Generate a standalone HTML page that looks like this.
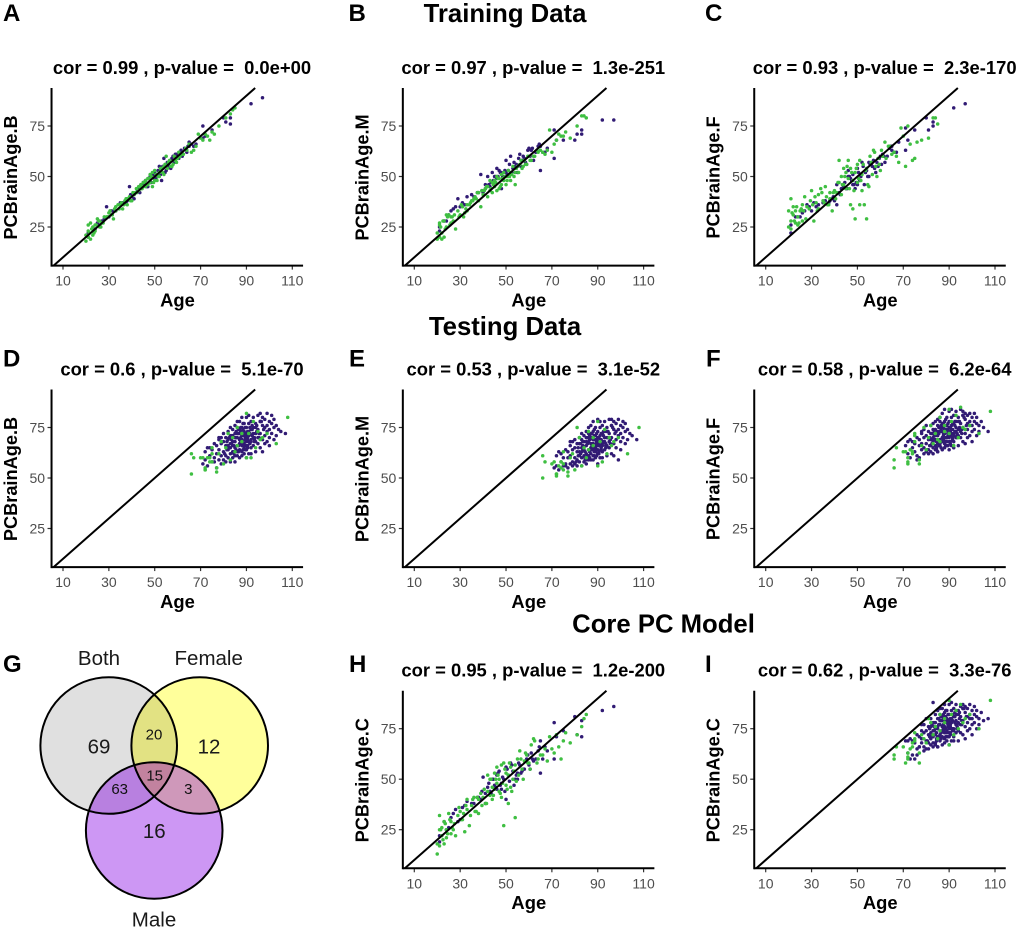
<!DOCTYPE html>
<html lang="en">
<head>
<meta charset="utf-8">
<title>PCBrainAge figure</title>
<style>
html,body{margin:0;padding:0;background:#fff;}
svg{display:block;font-family:"Liberation Sans",Arial,sans-serif;}
text{white-space:pre;}
.hd{font-weight:bold;font-size:25.7px;fill:#000;text-anchor:middle;}
.lt{font-weight:bold;font-size:24px;fill:#000;}
.vl{font-size:20.5px;fill:#1a1a1a;text-anchor:middle;}
.vn{font-size:15px;fill:#111;text-anchor:middle;}
</style>
</head>
<body>
<svg id="figure" width="1020" height="931" viewBox="0 0 1020 931" xmlns="http://www.w3.org/2000/svg">
<rect width="1020" height="931" fill="#fff"/>
<text class="hd" x="505" y="22">Training Data</text>
<text class="hd" x="505" y="335">Testing Data</text>
<text class="hd" x="663.5" y="632.5">Core PC Model</text>
<g id="panels"></g>
<g>
<defs>
<clipPath id="clipBoth"><circle cx="108.7" cy="745.5" r="68.3"/></clipPath>
<clipPath id="clipFemale"><circle cx="199.7" cy="745.5" r="68.3"/></clipPath>
<clipPath id="clipMale"><circle cx="154.2" cy="830.5" r="68.3"/></clipPath>
</defs>
<circle cx="108.7" cy="745.5" r="68.3" fill="#e0e0e0"/>
<circle cx="199.7" cy="745.5" r="68.3" fill="#ffff9b"/>
<circle cx="154.2" cy="830.5" r="68.3" fill="#cd97f4"/>
<g clip-path="url(#clipBoth)"><circle cx="199.7" cy="745.5" r="68.3" fill="#e2e283"/></g>
<g clip-path="url(#clipBoth)"><circle cx="154.2" cy="830.5" r="68.3" fill="#b880e0"/></g>
<g clip-path="url(#clipFemale)"><circle cx="154.2" cy="830.5" r="68.3" fill="#cf98ba"/></g>
<g clip-path="url(#clipBoth)"><g clip-path="url(#clipFemale)"><circle cx="154.2" cy="830.5" r="68.3" fill="#c2829f"/></g></g>
<circle cx="108.7" cy="745.5" r="68.3" fill="none" stroke="#000" stroke-width="2"/>
<circle cx="199.7" cy="745.5" r="68.3" fill="none" stroke="#000" stroke-width="2"/>
<circle cx="154.2" cy="830.5" r="68.3" fill="none" stroke="#000" stroke-width="2"/>
<text class="vl" x="99" y="665">Both</text>
<text class="vl" x="208.7" y="665">Female</text>
<text class="vl" x="154" y="926.5">Male</text>
<text class="vl" x="99" y="753.5">69</text>
<text class="vl" x="209" y="753.5">12</text>
<text class="vl" x="154.3" y="838">16</text>
<text class="vn" x="154" y="739.5">20</text>
<text class="vn" x="154.7" y="780.5">15</text>
<text class="vn" x="119.7" y="794">63</text>
<text class="vn" x="188.3" y="794">3</text>
</g>
</svg>
<script>
const xTicks = [10, 30, 50, 70, 90, 110];
const yTicks = [25, 50, 75];

const trainAgePurple = [
21,21,23,26,27,28,29,31,33,35,
38,39,40,41,41,42,43,44,45,46,
46,47,48,48,49,50,50,51,52,53,
54,55,55,56,57,58,59,60,61,62,
63,64,65,65,67,71,71,72,75,80,
81,83,83,92,97,
42.5,43.5,44.5,45.5,46.5,47.5,48.5,49.5,50.5,51.5,
52.5,53.5,54.5,55.5,56.5,57.5,58.5,59.5,60.5,61.5,
39.5,37.5,36,32,30,25,24,66,68,64.5];
const trainAgeGreen = [
20,20,21,21,21,22,22,23,23,24,
24,25,26,26,27,28,29,30,31,32,
33,33,34,35,36,37,38,38,39,40,
41,42,42,43,43,44,44,45,45,46,
46,47,47,48,48,49,49,50,50,51,
51,52,52,53,54,54,55,56,57,58,
59,60,61,62,64,66,67,68,69,71,
72,73,74,75,76,78,81,83,84,85,
21.5,22.5,23.5,24.5,25.5,26.5,27.5,29.5,30.5,31.5,
32.5,34.5,35.5,36.5,37.5,39.5,40.5,41.5,43.5,44.5,
45.5,46.5,47.5,48.5,49.5,50.5,51.5,52.5,53.5,54.5,
55.5,56.5,57.5,58.5,59.5,60.5,62.5,63.5,65,70];
const testAgePurple = [
71,72,72,73,73,74,74,75,75,76,
76,76,77,77,77,78,78,78,79,79,
79,79,80,80,80,80,81,81,81,81,
82,82,82,82,82,83,83,83,83,83,
84,84,84,84,84,84,85,85,85,85,
85,85,86,86,86,86,86,86,87,87,
87,87,87,87,87,88,88,88,88,88,
88,88,89,89,89,89,89,89,90,90,
90,90,90,90,90,91,91,91,91,91,
91,92,92,92,92,92,93,93,93,93,
93,94,94,94,94,95,95,95,95,96,
96,96,96,97,97,97,97,98,98,98,
98,99,99,99,99,100,100,100,100,101,
101,101,102,102,102,103,103,104,105,107,
78,83,86,88,90,92,94,96,89,85,
80.5,81.5,82.5,83.5,84.5,85.5,86.5,87.5,88.5,89.5,
90.5,91.5,92.5,93.5,94.5,95.5,96.5,97.5,81.5,82.5,
83.5,84.5,85.5,86.5,87.5,88.5,89.5,90.5,91.5,92.5,
93.5,94.5,95.5,83.5,84.5,85.5,86.5,87.5,88.5,89.5,
90.5,91.5,92.5,93.5,85.5,86.5,87.5,88.5,89.5,90.5,
91.5,87.5,88.5,89.5,90.5,86.5,87.5,88.5,89.5,90.5];
const testAgeGreen = [
66,66,67,70,71,72,72,72,73,74,
74,75,75,75,77,77,78,79,80,81,
82,83,84,85,86,86,88,88,90,90,
91,92,93,94,95,96,97,99,103,108];

const trainBothPurple = [
20,22,24,26,28,29,35,33,33,37,
38,45,40,41,39,42,44,46,47,46,
48,45,50,47,51,49,52,50,55,48,
59,55,53,56,54,60,61,59,62,60,
64,62,67,65,65,75,69,70,73,79,
77,79,76,86,89,
43,42,46,47,45,49,47,51,49,53,
51,55,52,57,55,59,57,61,59,63,
41,37,37,33,30,27,24,66,66,65];
const trainBothGreen = [
18,21,20,23,26,19,27,21,25,23,
26,29,25,28,27,30,30,32,31,29,
33,35,36,36,34,38,36,39,40,38,
41,42,44,45,43,46,44,47,45,48,
45,49,46,51,47,52,45,53,48,51,
48,52,50,54,55,51,60,57,55,56,
58,59,60,61,63,62,63,65,71,68,
71,70,68,72,71,75,79,81,83,84,
22,24,22,26,28,25,27,30,33,31,
34,34,37,36,39,38,42,42,45,44,
47,46,49,50,47,51,50,54,52,56,
54,58,55,60,57,62,61,64,66,69];
const trainMalePurple = [
25,23,28,33,34,35,39,37,40,41,
42,51,42,44,46,50,45,52,50,49,
54,53,52,44,50,58,52,53,60,54,
55,55,52,61,58,59,56,64,63,58,
62,65,65,53,62,73,59,68,68,68,
71,73,71,78,78,
46,47,48,50,50,52,50,53,51,56,
52,57,56,59,55,60,57,63,60,64,
43,42,40,36,35,31,28,62,64,66];
const trainMaleGreen = [
19,22,20,26,27,19,22,20,28,31,
25,31,27,30,28,24,33,31,35,32,
36,33,36,38,39,39,42,38,35,41,
44,40,45,43,48,42,47,45,48,43,
50,44,49,46,51,48,52,46,50,50,
53,52,48,55,52,46,55,56,54,58,
56,60,58,60,62,62,61,63,73,66,
68,71,70,70,72,69,75,80,80,79,
25,28,24,30,26,30,31,30,36,30,
34,37,38,40,42,43,43,45,44,46,
47,49,45,49,50,48,50,51,50,54,
52,58,55,56,60,58,60,63,63,62];
const trainFemalePurple = [
26,22,30,32,33,36,35,37,36,37,
38,39,38,36,46,42,44,45,44,50,
53,49,46,51,44,46,54,48,57,46,
53,57,50,56,58,52,55,60,61,57,
60,64,63,65,62,74,63,68,73,79,
73,75,77,84,86,
41,46,47,44,50,48,46,47,52,50,
55,52,50,56,55,54,57,59,56,60,
40,37,38,35,33,30,30,62,67,65];
const trainFemaleGreen = [
33,25,39,28,24,31,35,27,33,26,
30,33,28,36,40,35,34,43,28,37,
41,34,44,38,45,36,42,39,33,43,
42,58,47,50,41,54,46,52,44,58,
49,36,54,34,48,52,29,47,56,36,
58,43,51,36,54,29,45,57,63,55,
59,53,60,67,65,62,60,57,74,55,
75,66,58,59,67,68,69,79,79,76,
32,28,35,27,34,33,29,38,36,40,
33,42,37,40,36,42,39,47,46,50,
55,44,52,43,54,49,48,56,53,46,
60,51,62,50,56,63,59,65,61,70];
const trainCorePurple = [
19,22,29,31,33,35,29,36,39,38,
41,40,51,38,43,46,44,50,47,52,
45,54,48,45,50,40,56,52,58,54,
50,53,50,57,54,55,60,57,63,59,
60,64,53,69,66,78,60,71,74,81,
72,71,79,84,86,
48,43,50,46,53,47,51,44,55,49,
57,47,52,58,53,55,59,62,55,60,
44,41,38,37,30,26,25,60,64,66];
const trainCoreGreen = [
13,18,25,32,17,22,26,18,29,21,
25,33,23,29,25,22,32,34,30,24,
35,40,27,37,41,34,40,33,43,41,
38,52,44,50,42,46,40,45,53,48,
56,44,50,57,41,58,27,47,53,38,
52,46,56,50,57,31,60,64,55,59,
62,58,67,70,60,62,65,59,71,63,
72,66,60,69,73,68,72,76,80,82,
25,20,28,23,30,26,28,36,30,33,
37,32,40,34,41,37,45,38,50,42,
50,52,43,48,55,45,58,44,54,49,
52,60,50,63,58,55,69,58,62,65];

const testBothPurple = [
57,63,59,65,56,61,65,58,64,60,
67,58,62,55,66,59,64,69,61,67,
57,70,63,59,68,72,61,66,70,58,
64,69,60,73,66,62,71,58,67,75,
63,68,74,60,71,66,65,72,61,76,
68,58,70,63,75,66,61,78,67,72,
60,74,64,69,78,66,71,61,75,63,
80,69,73,62,77,67,65,71,60,68,
75,64,70,80,66,73,62,77,68,71,
81,65,74,69,78,62,72,66,80,70,
75,68,63,77,72,81,67,74,70,78,
65,72,82,69,76,63,80,71,67,75,
79,73,68,82,76,70,66,78,74,72,
81,77,69,75,79,71,76,74,73,72,
70,65,72,69,72,68,75,78,66,70,
62,68,65,71,63,70,66,73,68,75,
71,67,74,70,76,72,78,74,64,70,
67,62,73,66,70,64,72,69,75,71,
68,73,70,69,66,64,72,68,74,70,
66,72,76,69,70,63,75,66,71,73,
68,69,77,64,70,74,67,72,69,65];
const testBothGreen = [
52,62,60,60,60,54,54,55,60,58,
60,58,62,65,55,53,62,68,57,65,
72,59,70,63,75,66,68,72,82,60,
72,60,78,65,73,69,70,72,67,80];
const testMalePurple = [
55,61,56,63,54,58,62,56,60,57,
64,56,60,55,63,57,61,66,58,64,
56,68,60,57,65,69,59,63,67,56,
61,67,58,70,63,60,69,56,65,72,
61,65,71,58,68,64,62,70,59,73,
66,57,68,61,72,64,59,75,65,70,
59,72,62,67,76,64,69,59,73,61,
78,67,71,60,75,65,63,69,57,66,
73,62,68,79,64,71,60,75,66,69,
78,63,72,67,76,60,70,64,78,68,
73,66,61,75,70,79,65,72,68,76,
62,70,79,67,74,61,78,69,65,73,
77,71,59,79,74,68,64,76,72,70,
78,75,67,73,77,69,74,72,71,69,
68,63,70,67,70,66,73,76,64,68,
58,65,62,68,60,67,63,70,65,72,
68,64,71,67,73,69,75,72,61,67,
64,59,70,63,67,61,69,66,72,68,
65,70,67,66,63,61,69,65,71,67,
63,69,73,66,67,60,72,63,68,70,
65,66,74,61,67,71,64,69,66,62];
const testMaleGreen = [
50,61,58,57,58,51,52,52,56,55,
58,54,57,63,53,51,60,62,54,75,
70,56,65,60,73,64,66,70,78,56,
68,58,74,62,70,66,68,70,62,75];
const testFemalePurple = [
66,68,62,69,60,65,68,63,67,59,
70,61,66,60,69,64,67,72,65,70,
62,74,67,63,71,76,64,69,73,62,
66,72,63,76,69,65,74,62,70,77,
66,71,78,64,74,69,67,76,63,79,
71,63,73,67,78,69,66,80,70,75,
64,77,68,73,82,70,74,65,78,67,
84,72,76,66,80,70,68,74,64,71,
78,68,73,83,70,76,66,80,72,74,
84,68,77,72,81,65,75,70,83,73,
78,71,66,80,74,84,70,77,73,81,
68,75,83,72,79,67,82,74,70,77,
81,76,71,82,78,73,68,80,76,74,
82,78,71,77,80,73,76,78,75,73,
73,68,75,72,75,71,78,81,70,73,
64,70,67,73,65,72,68,75,70,77,
73,69,76,72,78,74,80,76,66,72,
69,64,75,68,72,66,74,71,77,73,
70,75,72,71,68,66,74,70,76,72,
68,74,78,71,72,65,77,68,73,75,
70,71,79,66,72,76,69,74,71,67];
const testFemaleGreen = [
55,59,65,63,63,57,58,60,64,62,
63,68,71,72,59,57,66,75,64,70,
76,67,72,69,80,68,73,76,84,72,
78,66,81,70,85,75,74,76,72,83];
const testCorePurple = [
69,63,69,60,70,62,69,60,68,65,
72,62,66,66,71,70,68,74,64,73,
66,77,69,65,74,80,68,72,76,65,
70,76,67,80,73,68,78,66,74,88,
68,75,82,67,78,72,71,80,66,84,
75,66,77,70,82,72,69,85,74,79,
67,81,71,76,85,73,78,68,83,70,
87,76,80,69,84,74,71,78,67,75,
82,71,77,87,73,80,69,84,75,78,
88,71,81,75,85,69,79,73,87,77,
82,74,69,84,78,86,73,81,77,85,
72,79,87,76,83,70,86,78,74,81,
85,80,75,87,82,77,72,84,80,78,
86,82,75,81,84,77,80,83,79,80,
77,71,79,75,79,74,82,85,73,76,
69,75,72,78,70,77,73,80,75,82,
78,74,81,77,83,79,85,81,71,77,
74,69,80,73,77,71,79,76,82,78,
75,80,77,76,73,71,79,75,81,77,
73,79,83,76,77,70,82,73,78,80,
75,76,84,71,77,81,74,79,76,72];
const testCoreGreen = [
60,62,66,66,58,61,63,60,65,68,
66,70,73,69,58,63,72,70,68,80,
78,72,76,70,82,74,78,80,89,67,
82,72,84,75,87,78,80,82,75,89];

const panelLetters = ['A','B','C','D','E','F','H','I'];
const panelTitles = [
'cor = 0.99 , p-value =  0.0e+00','cor = 0.97 , p-value =  1.3e-251','cor = 0.93 , p-value =  2.3e-170',
'cor = 0.6 , p-value =  5.1e-70','cor = 0.53 , p-value =  3.1e-52','cor = 0.58 , p-value =  6.2e-64',
'cor = 0.95 , p-value =  1.2e-200','cor = 0.62 , p-value =  3.3e-76'];
const panelYLabels = ['PCBrainAge.B','PCBrainAge.M','PCBrainAge.F','PCBrainAge.B','PCBrainAge.M','PCBrainAge.F','PCBrainAge.C','PCBrainAge.C'];
const panelColumns = [0,1,2,0,1,2,1,2];
const panelRows = [0,0,0,1,1,1,2,2];
const panelAgePurple = [trainAgePurple,trainAgePurple,trainAgePurple,testAgePurple,testAgePurple,testAgePurple,trainAgePurple,testAgePurple];
const panelAgeGreen = [trainAgeGreen,trainAgeGreen,trainAgeGreen,testAgeGreen,testAgeGreen,testAgeGreen,trainAgeGreen,testAgeGreen];
const panelPurple = [trainBothPurple,trainMalePurple,trainFemalePurple,testBothPurple,testMalePurple,testFemalePurple,trainCorePurple,testCorePurple];
const panelGreen = [trainBothGreen,trainMaleGreen,trainFemaleGreen,testBothGreen,testMaleGreen,testFemaleGreen,trainCoreGreen,testCoreGreen];

const SVGNS = 'http://www.w3.org/2000/svg';
const root = document.getElementById('panels');
const colOffset = [0, 351.3, 702.7];
const rowOffset = [0, 301.5, 602.7];
const xMin = 5, xMax = 114.7, yMin = 5.9, yMax = 93.8;

function xPos(v) { return 63 + (v - 10) * 2.293; }
function yPos(v) { return 227 - (v - 25) * 2.02; }

function make(tag, parent, attrs, text) {
  const el = document.createElementNS(SVGNS, tag);
  for (const k in attrs) el.setAttribute(k, attrs[k]);
  if (text !== undefined) el.textContent = text;
  parent.appendChild(el);
  return el;
}

function drawDots(parent, ages, values, color, seriesName) {
  const n = Math.min(ages.length, values.length);
  for (let i = 0; i < n; i++) {
    const dot = make('circle', parent, { cx: xPos(ages[i]), cy: yPos(values[i]), r: 1.75, fill: color });
    
    
  }
}

panelLetters.forEach(function (letter, p) {
  const g = make('g', root, { transform: 'translate(' + colOffset[panelColumns[p]] + ',' + rowOffset[panelRows[p]] + ')' });
  
  

  const lx = xPos(xMin), by = yPos(yMin), ty = yPos(yMax), rx = xPos(xMax);

  xTicks.forEach(function (t) {
    const tick = make('line', g, { x1: xPos(t), x2: xPos(t), y1: by, y2: by + 4, stroke: '#333', 'stroke-width': 1.2 });
    
    
    const lab = make('text', g, { x: xPos(t), y: by + 20, 'text-anchor': 'middle', 'font-size': 14, fill: '#4d4d4d' }, String(t));
    
    
  });
  yTicks.forEach(function (t) {
    const tick = make('line', g, { x1: lx - 4, x2: lx, y1: yPos(t), y2: yPos(t), stroke: '#333', 'stroke-width': 1.2 });
    
    
    const lab = make('text', g, { x: lx - 6.5, y: yPos(t) + 5, 'text-anchor': 'end', 'font-size': 14, fill: '#4d4d4d' }, String(t));
    
    
  });

  drawDots(g, panelAgePurple[p], panelPurple[p], '#311b74', 'dark-series');
  drawDots(g, panelAgeGreen[p], panelGreen[p], '#3fbf42', 'green-series');

  const ref = make('line', g, { x1: xPos(yMin), y1: yPos(yMin), x2: xPos(yMax), y2: yPos(yMax), stroke: '#000', 'stroke-width': 2 });
  
  

  const ax = make('line', g, { x1: lx, y1: by, x2: rx, y2: by, stroke: '#000', 'stroke-width': 2 });
  
  
  const ay = make('line', g, { x1: lx, y1: by + 1, x2: lx, y2: ty, stroke: '#000', 'stroke-width': 2 });
  
  

  const title = make('text', g, { x: 182, y: 74, 'text-anchor': 'middle', 'font-size': 18.4, 'font-weight': 'bold', fill: '#000' }, panelTitles[p]);
  
  

  const xt = make('text', g, { x: 177.5, y: 306.5, 'text-anchor': 'middle', 'font-size': 18.4, 'font-weight': 'bold', fill: '#000' }, 'Age');
  
  

  const yt = make('text', g, { transform: 'translate(17,177.5) rotate(-90)', 'text-anchor': 'middle', 'font-size': 18.2, 'font-weight': 'bold', fill: '#000' }, panelYLabels[p]);
  
  
});

const letterLabels = ['A','B','C','D','E','F','G','H','I'];
const letterX = [3, 348.5, 705, 3, 349, 706, 3, 349, 705];
const letterY = [21, 21, 21, 366.5, 366.5, 366.5, 672, 672, 672];
letterLabels.forEach(function (t, i) {
  const el = make('text', root, { class: 'lt', x: letterX[i], y: letterY[i] }, t);
  
  
});
</script>
</body>
</html>
